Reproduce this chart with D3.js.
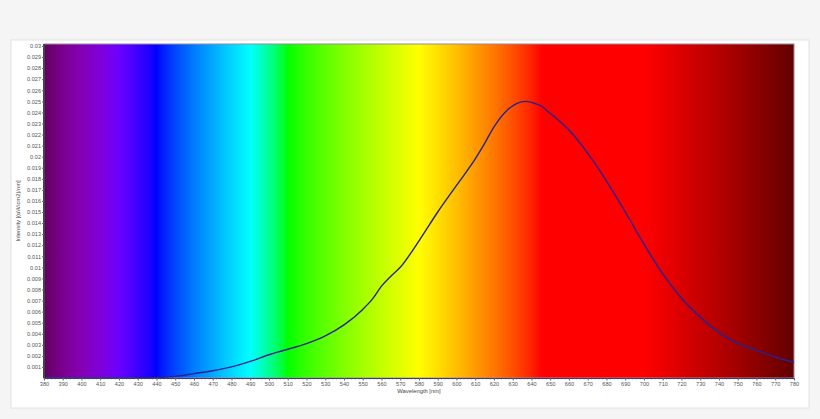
<!DOCTYPE html>
<html>
<head>
<meta charset="utf-8">
<script src="https://cdn.jsdelivr.net/npm/d3@7"></script>
<style>
  body { margin: 0; background: #f5f5f5; }
  svg { display: block; }
  .axis text { font-family: "Liberation Sans", Arial, sans-serif; fill: #555; }
</style>
</head>
<body>
<svg id="chart" width="820" height="419"></svg>
<script>
// spectrum data
const wavelengths = [380, 390, 400, 410, 420, 430, 440, 450, 460, 470, 480, 490, 500, 510, 520, 530, 540, 550, 555, 560, 565, 570, 580, 590, 600, 610, 614, 620, 627, 632, 637, 642, 645, 650, 655, 660, 670, 680, 690, 700, 710, 720, 730, 740, 750, 760, 770, 780];
const intensity = [0, 0, 0, 0, 0, 0.00002, 0.00005, 0.00015, 0.0004, 0.00066, 0.001, 0.0015, 0.0021, 0.0026, 0.0031, 0.0038, 0.0048, 0.0062, 0.0071, 0.0083, 0.0092, 0.0100, 0.0124, 0.0150, 0.0174, 0.0198, 0.0209, 0.0227, 0.0242, 0.0248, 0.0250, 0.0248, 0.0246, 0.0239, 0.0232, 0.0224, 0.0203, 0.0178, 0.0150, 0.0121, 0.0094, 0.0072, 0.0055, 0.0041, 0.0031, 0.0025, 0.0019, 0.0014];

// tick values
const xTicks = d3.range(380, 781, 10);
const xMinorTicks = d3.range(380, 781, 2);
const yTicks = d3.range(1, 31).map(i => i / 1000);

const xTitle = "Wavelength [nm]";
const yTitle = "Intensity [(uW/cm2)/nm]";

// layout
const plot = { left: 44, right: 794, top: 44, bottom: 378 };

const svg = d3.select("#chart");

// white panel
svg.append("rect")
  .attr("x", 11).attr("y", 40)
  .attr("width", 798).attr("height", 368)
  .attr("fill", "#fff")
  .attr("stroke", "#e2e2e2");

var x = d3.scaleLinear().domain([380, 780]).range([plot.left, plot.right]);
var y = d3.scaleLinear().domain([0, 0.03]).range([plot.bottom, 46]);

// visible spectrum colour for the background (style only)
function specColor(w) {
  let r = 0, g = 0, b = 0;
  if (w < 440) { r = -(w - 440) / 60; b = 1; }
  else if (w < 490) { g = (w - 440) / 50; b = 1; }
  else if (w < 510) { g = 1; b = -(w - 510) / 20; }
  else if (w < 580) { r = (w - 510) / 70; g = 1; }
  else if (w < 645) { r = 1; g = -(w - 645) / 65; }
  else { r = 1; }
  let f = 1;
  if (w < 420) f = 0.3 + 0.7 * (w - 380) / 40;
  else if (w > 700) f = 0.3 + 0.7 * (780 - w) / 80;
  const c = v => v === 0 ? 0 : Math.round(255 * Math.pow(v * f, 0.8));
  return `rgb(${c(r)},${c(g)},${c(b)})`;
}

var grad = svg.append("defs").append("linearGradient")
  .attr("id", "spectrum")
  .attr("x1", "0%").attr("x2", "100%").attr("y1", "0%").attr("y2", "0%");
d3.range(380, 781, 2).forEach(w => {
  grad.append("stop")
    .attr("offset", ((w - 380) / 400 * 100) + "%")
    .attr("stop-color", specColor(w));
});

svg.append("rect")
  .attr("x", plot.left).attr("y", plot.top)
  .attr("width", plot.right - plot.left)
  .attr("height", plot.bottom - plot.top)
  .attr("fill", "url(#spectrum)");

// frame
svg.append("rect")
  .attr("x", plot.left).attr("y", plot.top)
  .attr("width", plot.right - plot.left)
  .attr("height", plot.bottom - plot.top)
  .attr("fill", "none")
  .attr("stroke", "#9a8a9a")
  .attr("stroke-width", 1);

// curve
const line = d3.line()
  .curve(d3.curveMonotoneX)
  .x((d, i) => x(wavelengths[i]))
  .y(d => y(d));

svg.append("path")
  .datum(intensity)
  .attr("fill", "none")
  .attr("stroke", "#24248f")
  .attr("stroke-width", 1.4)
  .attr("d", line);

// y axis
var yAxis = svg.append("g")
  .attr("class", "axis")
  .attr("transform", `translate(${plot.left}, 0)`)
  .call(d3.axisLeft(y).tickValues(yTicks).tickSize(2).tickSizeOuter(0).tickFormat(d3.format("~g")));
yAxis.select(".domain").attr("stroke", "#444").attr("stroke-width", 2)
  .attr("d", `M0,${plot.top}V${plot.bottom}`);
yAxis.selectAll(".tick line").attr("stroke", "#666");
yAxis.selectAll(".tick text").style("font-size", "5.6px").attr("x", -3);

// x axis, minor ticks
svg.append("g")
  .attr("transform", `translate(0, ${plot.bottom})`)
  .selectAll("line")
  .data(xMinorTicks)
  .join("line")
  .attr("x1", d => x(d)).attr("x2", d => x(d))
  .attr("y1", 0).attr("y2", 1.5)
  .attr("stroke", "#888")
  .attr("stroke-width", 0.6);

var xAxis = svg.append("g")
  .attr("class", "axis")
  .attr("transform", `translate(0, ${plot.bottom})`)
  .call(d3.axisBottom(x).tickValues(xTicks).tickSize(2.5).tickSizeOuter(0).tickFormat(d3.format("d")));
xAxis.select(".domain").attr("stroke", "#3a3a7a").attr("stroke-width", 1);
xAxis.selectAll(".tick line").attr("stroke", "#666");
xAxis.selectAll(".tick text").style("font-size", "5.6px").attr("y", 4.5);

// titles
svg.append("text")
  .attr("x", (plot.left + plot.right) / 2)
  .attr("y", 393)
  .attr("text-anchor", "middle")
  .style("font", "5.8px 'Liberation Sans', Arial, sans-serif")
  .attr("fill", "#444")
  .text(xTitle);

svg.append("text")
  .attr("transform", `translate(20, ${(plot.top + plot.bottom) / 2}) rotate(-90)`)
  .attr("text-anchor", "middle")
  .style("font", "5.8px 'Liberation Sans', Arial, sans-serif")
  .attr("fill", "#444")
  .text(yTitle);
</script>
</body>
</html>
